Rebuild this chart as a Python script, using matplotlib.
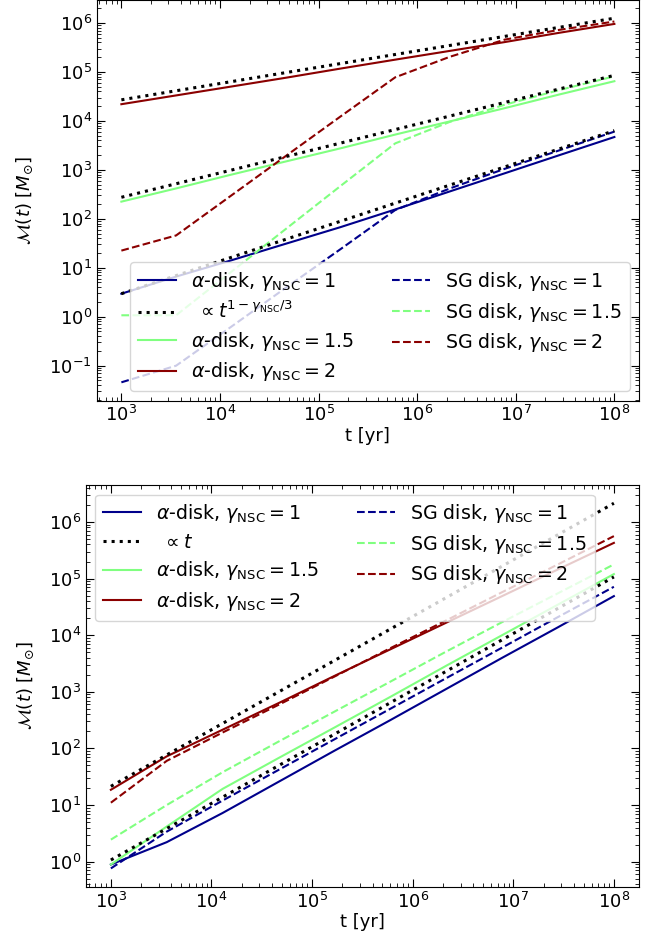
import matplotlib
matplotlib.use('Agg')
import matplotlib.pyplot as plt
from matplotlib.ticker import LogLocator, NullFormatter, FixedLocator

plt.rcParams['font.family'] = ['DejaVu Sans']
plt.rcParams['font.size'] = 13

# time grid [yr]
t = [1.0e3, 3.59e3, 1.29e4, 4.64e4, 1.67e5, 5.99e5, 2.15e6, 7.74e6, 2.78e7, 1.0e8]
t_ends = [1.0e3, 1.0e8]

# ---- top panel: M(t) [Msun]
top_alpha_g1 = [2.95, 6.6, 14.1, 30.9, 67.6, 155, 363, 851, 2000, 4680]
top_alpha_g15 = [224, 417, 794, 1480, 2750, 5250, 9770, 18200, 34700, 64600]
top_alpha_g2 = [21900, 33100, 50100, 75900, 117000, 178000, 269000, 407000, 631000, 955000]
top_sg_g1 = [0.0457, 0.100, 0.617, 3.89, 24.0, 151, 417, 1050, 2510, 6030]
top_sg_g15 = [1.07, 1.07, 8.13, 61.7, 468, 3470, 9550, 21400, 42700, 81300]
top_sg_g2 = [22.4, 45.7, 295, 1910, 12300, 77600, 204000, 457000, 724000, 1070000]
top_pl_g1 = [2.95, 6310]
top_pl_g15 = [275, 85100]
top_pl_g2 = [26900, 1250000]

# ---- bottom panel
bot_alpha_g1 = [0.89, 2.21, 7.24, 25.7, 91.2, 316, 1120, 3980, 13800, 49000]
bot_alpha_g15 = [0.89, 4.17, 19.3, 67.6, 234, 813, 2880, 10000, 34700, 120000]
bot_alpha_g2 = [18.6, 72.4, 214, 631, 1910, 5620, 16600, 49000, 145000, 427000]
bot_sg_g1 = [0.76, 3.39, 12.0, 41.7, 145, 501, 1740, 6030, 20900, 71600]
bot_sg_g15 = [2.45, 10.0, 38.0, 132, 447, 1510, 5130, 17000, 55000, 178000]
bot_sg_g2 = [11.0, 60.3, 191, 589, 1860, 5890, 18200, 57500, 178000, 562000]
bot_pl_hi = [21.4, 2.14e6]
bot_pl_lo = [1.07, 1.07e5]

labels_alpha = [r'$\alpha$-disk, $\gamma_{\rm NSC}=1$',
                r'$\alpha$-disk, $\gamma_{\rm NSC}=1.5$',
                r'$\alpha$-disk, $\gamma_{\rm NSC}=2$']
labels_sg = [r'SG disk, $\gamma_{\rm NSC}=1$',
             r'SG disk, $\gamma_{\rm NSC}=1.5$',
             r'SG disk, $\gamma_{\rm NSC}=2$']
label_pl_top = r' $\propto t^{1-\gamma_{\rm NSC}/3}$'
label_pl_bot = r' $\propto t$'

colors = ['darkblue', '#80ff80', 'darkred']

fig = plt.figure(figsize=(6.62, 9.48), dpi=100)
ax1 = fig.add_axes([0.1461, 0.5775, 0.8192, 0.4225])
ax2 = fig.add_axes([0.1295, 0.0647, 0.8358, 0.4237])


def in_range(locator, lo, hi):
    vals = locator.tick_values(lo, hi)
    return [v for v in vals if lo * 0.999 <= v <= hi * 1.001]


def draw(ax, alphas, sgs, pls, pl_label, loc, ylab_x):
    ha = []
    for y, c, lab in zip(alphas, colors, labels_alpha):
        h, = ax.plot(t, y, '-', color=c, lw=1.5, label=lab)
        ha.append(h)
    hs = []
    for y, c, lab in zip(sgs, colors, labels_sg):
        h, = ax.plot(t, y, '--', color=c, lw=1.5, label=lab)
        hs.append(h)
    hp = None
    for y in pls:
        hp, = ax.plot(t_ends, y, ':', color='black', lw=2.2)
    handles = [ha[0], hp, ha[1], ha[2], hs[0], hs[1], hs[2]]
    labs = [labels_alpha[0], pl_label, labels_alpha[1], labels_alpha[2],
            labels_sg[0], labels_sg[1], labels_sg[2]]
    ax.legend(handles, labs, ncol=2, loc=loc, fontsize=13.7, labelspacing=0.4)
    ax.set_xscale('log')
    ax.set_yscale('log')
    xlo, xhi = ax.get_xlim()
    ylo, yhi = ax.get_ylim()
    ax.set_xlim(xlo, xhi)
    ax.set_ylim(ylo, yhi)
    maj = LogLocator(base=10, numticks=100)
    mnr = LogLocator(base=10, subs=range(2, 10), numticks=100)
    ax.xaxis.set_major_locator(FixedLocator(in_range(maj, xlo, xhi)))
    ax.yaxis.set_major_locator(FixedLocator(in_range(maj, ylo, yhi)))
    ax.xaxis.set_minor_locator(FixedLocator(in_range(mnr, xlo, xhi)))
    ax.yaxis.set_minor_locator(FixedLocator(in_range(mnr, ylo, yhi)))
    ax.xaxis.set_minor_formatter(NullFormatter())
    ax.yaxis.set_minor_formatter(NullFormatter())
    ax.tick_params(which='both', direction='in', top=True, right=True, labelsize=13)
    ax.tick_params(which='major', length=5.5)
    ax.tick_params(which='minor', length=3)
    ax.set_xlabel('t [yr]', fontsize=13, labelpad=1.0)
    ax.set_ylabel(r'$\mathcal{M}(t)$ [$M_{\odot}$]', fontsize=13)
    ax.yaxis.set_label_coords(ylab_x, 0.5)


draw(ax1, [top_alpha_g1, top_alpha_g15, top_alpha_g2],
     [top_sg_g1, top_sg_g15, top_sg_g2],
     [top_pl_g1, top_pl_g15, top_pl_g2], label_pl_top, 'lower right', -0.114)
draw(ax2, [bot_alpha_g1, bot_alpha_g15, bot_alpha_g2],
     [bot_sg_g1, bot_sg_g15, bot_sg_g2],
     [bot_pl_hi, bot_pl_lo], label_pl_bot, 'upper left', -0.090)

fig.savefig('out.png', dpi=100)
